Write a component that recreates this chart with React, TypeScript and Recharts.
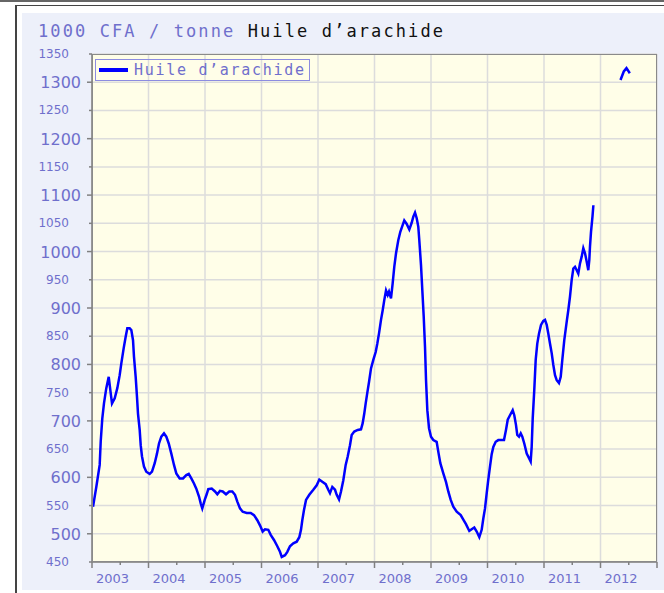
import { LineChart, Line, XAxis, YAxis, CartesianGrid, Legend } from "recharts"

const unitLabel = "1000 CFA / tonne"
const seriesName = "Huile d’arachide"

const years = [2003, 2004, 2005, 2006, 2007, 2008, 2009, 2010, 2011, 2012, 2013]
const yTicks = [450, 500, 550, 600, 650, 700, 750, 800, 850, 900, 950, 1000, 1050, 1100, 1150, 1200, 1250, 1300, 1350]

// decimal year of each reading
const dates = [
  2003.018, 2003.076, 2003.136, 2003.154, 2003.182, 2003.212, 2003.253, 2003.296, 2003.324, 2003.354,
  2003.402, 2003.448, 2003.49, 2003.519, 2003.561, 2003.596, 2003.625, 2003.667, 2003.696, 2003.726,
  2003.743, 2003.773, 2003.796, 2003.814, 2003.844, 2003.862, 2003.885, 2003.92, 2003.961, 2004.021,
  2004.062, 2004.11, 2004.15, 2004.186, 2004.227, 2004.274, 2004.315, 2004.358, 2004.404, 2004.451,
  2004.492, 2004.552, 2004.611, 2004.669, 2004.712, 2004.758, 2004.805, 2004.846, 2004.894, 2004.924,
  2004.952, 2004.995, 2005.03, 2005.058, 2005.119, 2005.177, 2005.218, 2005.265, 2005.313, 2005.372,
  2005.43, 2005.483, 2005.531, 2005.572, 2005.619, 2005.667, 2005.738, 2005.809, 2005.867, 2005.926,
  2005.973, 2006.021, 2006.062, 2006.12, 2006.163, 2006.221, 2006.28, 2006.327, 2006.358, 2006.416,
  2006.457, 2006.504, 2006.563, 2006.623, 2006.669, 2006.699, 2006.722, 2006.752, 2006.788, 2006.846,
  2006.917, 2006.977, 2007.023, 2007.076, 2007.136, 2007.182, 2007.212, 2007.253, 2007.301, 2007.331,
  2007.372, 2007.407, 2007.448, 2007.49, 2007.526, 2007.566, 2007.596, 2007.642, 2007.703, 2007.761,
  2007.791, 2007.819, 2007.844, 2007.873, 2007.903, 2007.938, 2007.979, 2008.021, 2008.05, 2008.08,
  2008.115, 2008.145, 2008.173, 2008.204, 2008.234, 2008.257, 2008.292, 2008.322, 2008.35, 2008.381,
  2008.421, 2008.457, 2008.492, 2008.527, 2008.57, 2008.616, 2008.658, 2008.687, 2008.717, 2008.747,
  2008.775, 2008.793, 2008.823, 2008.846, 2008.871, 2008.894, 2008.912, 2008.935, 2008.965, 2009.0,
  2009.041, 2009.1, 2009.135, 2009.165, 2009.218, 2009.265, 2009.306, 2009.349, 2009.395, 2009.455,
  2009.526, 2009.572, 2009.619, 2009.678, 2009.719, 2009.766, 2009.809, 2009.855, 2009.897, 2009.926,
  2009.956, 2009.986, 2010.013, 2010.044, 2010.074, 2010.103, 2010.145, 2010.191, 2010.251, 2010.292,
  2010.327, 2010.358, 2010.398, 2010.446, 2010.474, 2010.504, 2010.527, 2010.558, 2010.588, 2010.616,
  2010.651, 2010.694, 2010.735, 2010.764, 2010.782, 2010.8, 2010.828, 2010.853, 2010.881, 2010.912,
  2010.947, 2010.988, 2011.018, 2011.048, 2011.076, 2011.106, 2011.136, 2011.165, 2011.195, 2011.225,
  2011.265, 2011.296, 2011.324, 2011.359, 2011.402, 2011.43, 2011.46, 2011.49, 2011.519, 2011.549,
  2011.579, 2011.607, 2011.637, 2011.667, 2011.696, 2011.726, 2011.756, 2011.784, 2011.802, 2011.814,
  2011.832, 2011.858, 2011.874, 2012.1, 2012.354, 2012.412, 2012.46, 2012.519,
]

const prices = [
  548, 583, 622, 663, 704, 731, 758, 778, 755, 731,
  740, 758, 781, 802, 829, 849, 864, 864, 861, 843,
  814, 778, 743, 713, 684, 657, 637, 619, 610, 606,
  610, 625, 642, 660, 672, 678, 672, 660, 642, 622,
  607, 598, 598, 604, 606, 598, 589, 580, 566, 554,
  545, 560, 570, 579, 580, 575, 570, 576, 575, 570,
  575, 575, 569, 557, 545, 539, 537, 537, 533, 524,
  515, 504, 508, 507, 498, 489, 478, 468, 459, 462,
  468, 478, 483, 486, 494, 507, 524, 542, 560, 569,
  578, 586, 596, 592, 588, 578, 572, 583, 578, 569,
  561, 575, 595, 622, 637, 657, 675, 681, 684, 685,
  696, 713, 731, 750, 769, 793, 808, 822, 837, 855,
  879, 896, 914, 931, 923, 929, 917, 944, 973, 997,
  1020, 1035, 1045, 1055, 1049, 1039, 1051, 1062, 1069, 1059,
  1044, 1020, 976, 932, 885, 831, 772, 719, 687, 672,
  666, 663, 642, 625, 607, 592, 575, 560, 548, 539,
  533, 525, 517, 505, 508, 511, 504, 494, 507, 527,
  545, 572, 595, 619, 641, 654, 663, 666, 666, 666,
  684, 702, 710, 719, 710, 693, 675, 672, 678, 672,
  660, 642, 634, 628, 654, 704, 755, 808, 837, 855,
  870, 877, 879, 870, 855, 837, 820, 799, 781, 772,
  767, 778, 808, 843, 876, 896, 920, 950, 970, 973,
  967, 961, 979, 991, 1006, 997, 982, 967, 985, 1009,
  1035, 1062, 1082, null, 1304, 1319, 1325, 1316,
]

const data = dates.map((t, i) => ({ t, v: prices[i] }))

const labelColor = "#6f6fcc"

function YTick(props: any) {
  const { x, y, payload } = props
  const major = payload.value % 100 === 0
  return (
    <g>
      <line x1={x - (major ? 5 : 3)} x2={x} y1={y} y2={y} stroke="#808080" strokeWidth={1.5} />
      <text
        x={major ? x - 11 : x - 23}
        y={y}
        dy={major ? 6 : 4}
        textAnchor="end"
        fill={labelColor}
        fontFamily="DejaVu Sans"
        fontSize={major ? 16 : 12}
      >
        {payload.value}
      </text>
    </g>
  )
}

function XTick(props: any) {
  const { x, y, payload } = props
  const last = payload.value === years[years.length - 1]
  return (
    <g>
      <line x1={x} x2={x} y1={y} y2={y + 6} stroke="#808080" strokeWidth={1.5} />
      {!last && <line x1={x + 28.25} x2={x + 28.25} y1={y} y2={y + 3} stroke="#808080" strokeWidth={1.5} />}
      {!last && (
        <text x={x + 4} y={y + 21} fill={labelColor} fontFamily="DejaVu Sans" fontSize={13}>
          {payload.value}
        </text>
      )}
    </g>
  )
}

function LegendBox() {
  return (
    <div
      style={{
        display: "flex",
        alignItems: "center",
        height: 22,
        boxSizing: "border-box",
        border: "1px solid #8c8ce0",
        padding: "0 3px",
        fontFamily: "DejaVu Sans Mono",
        fontSize: 15,
        letterSpacing: 1.7,
        color: labelColor,
        whiteSpace: "nowrap",
      }}
    >
      <span style={{ display: "inline-block", width: 29, height: 4, background: "#0000ff", marginRight: 6 }} />
      {seriesName}
    </div>
  )
}

export default function App() {
  return (
    <div style={{ position: "absolute", left: 0, top: 0, width: 664, height: 593, background: "#fff", overflow: "hidden" }}>
      <div style={{ position: "absolute", left: 0, top: 0, width: 664, height: 2, background: "#666" }} />
      <div style={{ position: "absolute", left: 15, top: 5, width: 649, height: 588, borderLeft: "2px solid #444", borderTop: "1px solid #444" }} />
      <div style={{ position: "absolute", left: 22, top: 13, width: 642, height: 577, background: "#edf0fa" }} />
      <div
        style={{
          position: "absolute",
          left: 38,
          top: 21,
          fontFamily: "DejaVu Sans Mono",
          fontSize: 17,
          letterSpacing: 2.1,
          whiteSpace: "nowrap",
        }}
      >
        <span style={{ color: labelColor }}>{unitLabel}</span> <span style={{ color: "#111" }}>{seriesName}</span>
      </div>
      <div style={{ position: "absolute", left: 0, top: 0 }}>
        <LineChart width={664} height={593} data={data} margin={{ top: 54, right: 7, left: 0, bottom: 6 }}>
          <CartesianGrid fill="#fffee8" stroke="#dcdcdc" strokeWidth={1.5} />
          <XAxis
            dataKey="t"
            type="number"
            domain={[2003, 2013]}
            ticks={years}
            interval={0}
            height={25}
            tickSize={0}
            tickMargin={0}
            tick={<XTick />}
            axisLine={{ stroke: "#808080", strokeWidth: 1.5 }}
            allowDataOverflow
          />
          <YAxis
            type="number"
            domain={[450, 1350]}
            ticks={yTicks}
            interval={0}
            width={92}
            tickSize={0}
            tickMargin={0}
            tick={<YTick />}
            axisLine={{ stroke: "#808080", strokeWidth: 1.5 }}
            allowDataOverflow
          />
          <Legend
            layout="vertical"
            align="center"
            verticalAlign="middle"
            content={<LegendBox />}
            wrapperStyle={{ left: 95, top: 59, width: "auto" }}
          />
          <Line
            dataKey="v"
            name={seriesName}
            stroke="#0000ff"
            strokeWidth={2.5}
            dot={false}
            connectNulls={false}
            isAnimationActive={false}
          />
        </LineChart>
      </div>
      <div
        style={{
          position: "absolute",
          left: 92,
          top: 54,
          width: 565,
          height: 508,
          boxSizing: "border-box",
          border: "1px solid #8a8a8a",
          pointerEvents: "none",
        }}
      />
    </div>
  )
}
